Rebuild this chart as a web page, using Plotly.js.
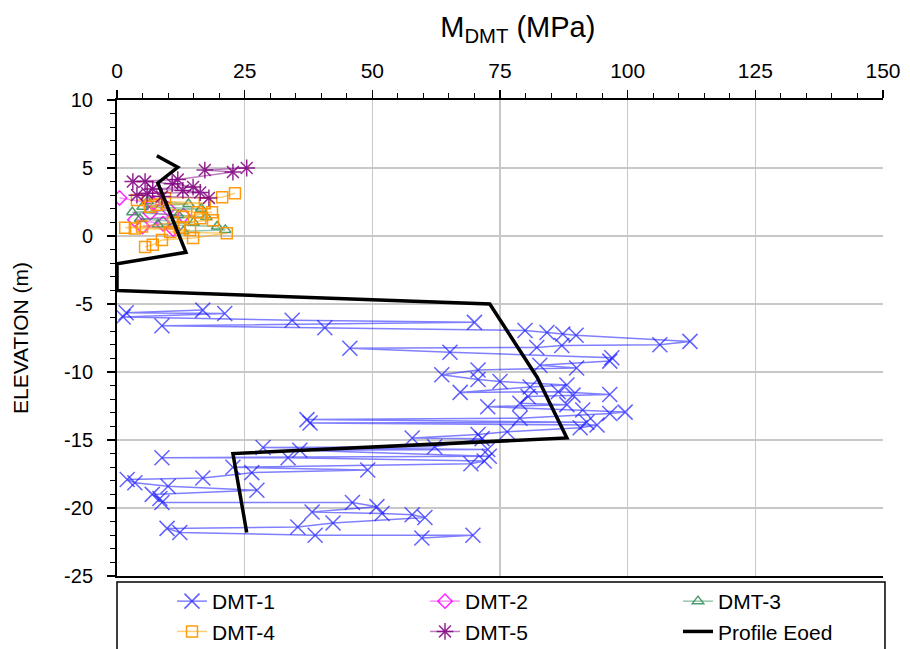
<!DOCTYPE html>
<html>
<head>
<meta charset="utf-8">
<script src="https://cdn.plot.ly/plotly-3.0.1.min.js"></script>
<style>
  html, body { margin: 0; padding: 0; background: #fff; }
  #chart { width: 910px; height: 649px; }
</style>
</head>
<body>
<div id="chart"></div>
<script>
// DMT soundings: dilatometer modulus M_DMT (MPa) against elevation (m)
const dmt1Mod = [16.8, 1.8, 21.1, 1.2, 34.3, 70.0, 8.8, 40.7, 79.9, 84.2, 87.3, 89.9, 112.2, 106.3, 87.1, 82.2, 45.6, 65.2, 96.9, 96.5, 82.8, 90.0, 70.7, 63.6, 70.7, 75.0, 88.1, 80.9, 67.2, 86.4, 96.5, 89.3, 80.5, 78.9, 88.1, 72.6, 91.2, 99.5, 96.5, 78.9, 37.2, 92.0, 37.8, 94.0, 90.7, 76.4, 70.7, 57.8, 71.5, 62.2, 28.6, 72.6, 35.8, 72.9, 8.8, 33.5, 71.9, 69.3, 22.7, 49.1, 26.4, 16.8, 2.0, 3.5, 10.0, 27.4, 6.9, 8.4, 8.8, 46.1, 50.9, 38.2, 51.9, 57.8, 60.3, 42.3, 35.4, 9.8, 12.3, 38.8, 69.7, 59.7];
const dmt1Elev = [-5.45, -5.65, -5.7, -5.95, -6.2, -6.35, -6.6, -6.75, -6.95, -7.1, -7.2, -7.3, -7.75, -8.0, -8.05, -8.2, -8.25, -8.55, -8.95, -9.2, -9.5, -9.7, -9.85, -10.2, -10.55, -10.7, -10.95, -11.1, -11.5, -11.45, -11.65, -11.7, -11.8, -12.3, -12.4, -12.55, -12.8, -12.95, -13.05, -13.4, -13.5, -13.7, -13.75, -13.9, -14.1, -14.4, -14.6, -14.85, -14.9, -15.5, -15.55, -15.7, -15.75, -16.2, -16.3, -16.3, -16.55, -16.75, -17.0, -17.2, -17.4, -17.8, -17.9, -18.15, -18.4, -18.7, -19.0, -19.3, -19.6, -19.6, -19.9, -20.3, -20.4, -20.5, -20.7, -21.1, -21.4, -21.5, -21.8, -22.0, -22.0, -22.2];

const dmt2Mod = [0.5, 7.0, 10.0, 6.5, 13.0, 3.5, 9.0, 5.0, 11.0];
const dmt2Elev = [2.8, 2.4, 2.0, 1.7, 1.5, 1.2, 0.9, 0.7, 0.5];

const dmt3Mod = [6.0, 14.0, 5.0, 16.5, 3.0, 12.0, 17.5, 4.5, 15.0, 8.0, 19.6, 21.2, 13.0];
const dmt3Elev = [2.55, 2.35, 2.15, 2.0, 1.75, 1.55, 1.4, 1.25, 1.0, 0.85, 0.7, 0.45, 0.35];

const dmt4Mod = [23.1, 20.6, 9.4, 3.9, 17.2, 7.8, 6.5, 15.7, 18.6, 12.9, 16.3, 18.8, 11.0, 4.9, 1.6, 12.3, 3.5, 14.3, 10.4, 21.5, 14.9, 8.8, 7.0, 5.5];
const dmt4Elev = [3.15, 2.85, 2.8, 2.65, 2.4, 2.3, 2.15, 1.75, 1.75, 1.4, 1.3, 1.15, 1.0, 0.7, 0.6, 0.6, 0.55, 0.45, 0.3, 0.2, -0.15, -0.3, -0.65, -0.8];

const dmt5Mod = [25.4, 17.2, 22.7, 11.9, 3.1, 5.5, 10.8, 14.9, 7.0, 12.9, 16.3, 5.9, 3.9, 8.8, 18.0];
const dmt5Elev = [5.0, 4.85, 4.7, 4.15, 4.0, 4.0, 3.85, 3.6, 3.45, 3.35, 3.2, 3.15, 3.0, 2.9, 2.8];

// Oedometric modulus design profile
const eoedMod = [7.8, 11.9, 8.0, 13.5, 0, 0, 73.0, 82.3, 88.1, 22.7, 25.4];
const eoedElev = [5.9, 5.05, 3.9, -1.2, -2.05, -4.0, -5.0, -10.4, -14.85, -16.0, -21.8];

const seriesNames = ['DMT-1', 'DMT-2', 'DMT-3', 'DMT-4', 'DMT-5', 'Profile Eoed'];
const xTicks = [0, 25, 50, 75, 100, 125, 150];
const yTicks = [10, 5, 0, -5, -10, -15, -20, -25];

const FONT = 'Liberation Sans, Arial, sans-serif';

function dmtTrace(name, x, y, lineColor, markerColor, symbol, size) {
  return {
    type: 'scatter', mode: 'lines+markers', name: name, x: x, y: y,
    line: { color: lineColor, width: 1.5 },
    marker: { symbol: symbol, size: size, color: markerColor,
              line: { color: markerColor, width: 1.5 } }
  };
}

const traces = [
  dmtTrace(seriesNames[0], dmt1Mod, dmt1Elev, 'rgba(0,0,255,0.5)', 'rgba(30,30,255,0.7)', 'x-thin-open', 15),
  dmtTrace(seriesNames[1], dmt2Mod, dmt2Elev, 'rgba(255,0,255,0.45)', 'rgba(255,0,255,0.85)', 'diamond-open', 11),
  dmtTrace(seriesNames[2], dmt3Mod, dmt3Elev, 'rgba(46,139,87,0.5)', 'rgba(46,139,87,0.85)', 'triangle-up-open', 10),
  dmtTrace(seriesNames[3], dmt4Mod, dmt4Elev, 'rgba(255,165,0,0.55)', 'rgba(255,150,0,0.95)', 'square-open', 11),
  dmtTrace(seriesNames[4], dmt5Mod, dmt5Elev, 'rgba(128,0,128,0.5)', 'rgba(128,0,128,0.85)', 'asterisk-open', 14),
  { type: 'scatter', mode: 'lines', name: seriesNames[5], x: eoedMod, y: eoedElev,
    line: { color: '#000', width: 3.5 } }
];

const layout = {
  width: 910, height: 649,
  margin: { l: 117, r: 27, t: 100, b: 73, autoexpand: false },
  paper_bgcolor: '#fff', plot_bgcolor: '#fff',
  font: { family: FONT, size: 16, color: '#000' },
  showlegend: true,
  title: {
    text: 'M<sub>DMT</sub> (MPa)', font: { family: FONT, size: 29 },
    xref: 'container', yref: 'container', x: 0.569, xanchor: 'center',
    y: 0.958, yanchor: 'middle'
  },
  xaxis: {
    side: 'top', range: [0, 150], tickvals: xTicks, ticktext: xTicks.map(String),
    ticks: 'outside', ticklen: 8, tickwidth: 1.5, tickcolor: '#000',
    minor: { dtick: 5, ticks: 'outside', ticklen: 5, tickwidth: 1, tickcolor: '#000', showgrid: false },
    showline: true, linecolor: '#000', linewidth: 2, mirror: true,
    showgrid: true, gridcolor: '#c8c8c8', gridwidth: 1.5, zeroline: false,
    tickfont: { family: FONT, size: 21 }, ticklabelstandoff: 4
  },
  yaxis: {
    range: [-25, 10], tickvals: yTicks, ticktext: yTicks.map(String),
    ticks: 'outside', ticklen: 8, tickwidth: 1.5, tickcolor: '#000',
    minor: { dtick: 1, ticks: 'outside', ticklen: 5, tickwidth: 1, tickcolor: '#000', showgrid: false },
    showline: true, linecolor: '#000', linewidth: 2,
    showgrid: true, gridcolor: '#c8c8c8', gridwidth: 1.5, zeroline: false,
    tickfont: { family: FONT, size: 20 }, ticklabelstandoff: 10,
    title: { text: 'ELEVATION (m)', font: { family: FONT, size: 21 }, standoff: 30 }
  },
  legend: {
    orientation: 'h', x: 0.0718, xanchor: 'left', y: -0.0105, yanchor: 'top',
    entrywidth: 208, entrywidthmode: 'pixels',
    borderwidth: 0, bgcolor: 'rgba(0,0,0,0)',
    font: { family: FONT, size: 21 }
  },
  shapes: [
    // frame around the legend
    { type: 'rect', xref: 'paper', yref: 'paper', x0: 0, x1: 1.0026, y0: -0.0126, y1: -0.2,
      line: { color: '#000', width: 1.5 }, fillcolor: 'rgba(0,0,0,0)' }
  ]
};

Plotly.newPlot('chart', traces, layout, { displayModeBar: false, staticPlot: true });
</script>
</body>
</html>
